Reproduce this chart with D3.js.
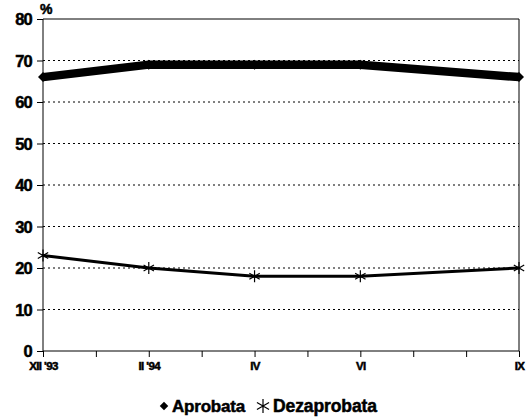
<!DOCTYPE html>
<html>
<head>
<meta charset="utf-8">
<script src="https://cdn.jsdelivr.net/npm/d3@7"></script>
<style>
  body { margin: 0; background: #fff; }
  svg { font-family: "Liberation Sans", Arial, sans-serif; font-weight: bold; }
  .grid line { stroke: #000; stroke-dasharray: 2,3; stroke-width: 1; }
  .heavy { stroke: #000; stroke-width: 0.5px; }
</style>
</head>
<body>
<div id="plot"></div>
<script>
// data
var months = ["XII '93", "I", "II '94", "III", "IV", "V", "VI", "VII", "VIII", "IX"];
var shown = ["XII '93", "II '94", "IV", "VI", "IX"];
var pointMonths = ["XII '93", "II '94", "IV", "VI", "IX"];
var aprobata = [66, 69, 69, 69, 66];
var dezaprobata = [23, 20, 18, 18, 20];
var yTicks = [0, 10, 20, 30, 40, 50, 60, 70, 80];

var margin = {top: 19, right: 7, bottom: 66, left: 43};
var width = 526 - margin.left - margin.right;
var height = 417 - margin.top - margin.bottom;

var svg = d3.select("#plot").append("svg")
    .attr("width", 526)
    .attr("height", 417)
  .append("g")
    .attr("transform", "translate(" + margin.left + "," + margin.top + ")");

var xScale = d3.scalePoint()
    .domain(months)
    .range([0, width]);

var yScale = d3.scaleLinear()
    .domain([0, 80])
    .range([height, 0]);

// gridlines
svg.append("g")
    .attr("class", "grid")
  .selectAll("line")
    .data(yTicks.filter(function(d) { return d > 0 && d < 80; }))
    .enter().append("line")
    .attr("x1", 0)
    .attr("x2", width)
    .attr("y1", function(d) { return yScale(d); })
    .attr("y2", function(d) { return yScale(d); });

// frame top and right
svg.append("line")
    .attr("x1", 0).attr("x2", width)
    .attr("y1", 0).attr("y2", 0)
    .attr("stroke", "#000");
svg.append("line")
    .attr("x1", width).attr("x2", width)
    .attr("y1", 0).attr("y2", height)
    .attr("stroke", "#000");

// axes
var xAxis = svg.append("g")
    .attr("transform", "translate(0," + height + ")")
    .call(d3.axisBottom(xScale)
        .tickSize(6)
        .tickFormat(function(d) { return shown.indexOf(d) >= 0 ? d : ""; }));
xAxis.selectAll("text")
    .attr("class", "heavy")
    .attr("font-size", 11.5)
    .attr("font-weight", "bold")
    .attr("dy", "0.85em")
    .style("letter-spacing", "-0.6px");

var yAxis = svg.append("g")
    .call(d3.axisLeft(yScale).tickValues(yTicks).tickSize(6).tickPadding(5));
yAxis.selectAll("text")
    .attr("class", "heavy")
    .attr("font-size", 16.5)
    .attr("font-weight", "bold")
    .attr("dy", "0.36em")
    .style("letter-spacing", "-0.8px");

svg.selectAll(".domain").attr("stroke", "#000");
svg.selectAll(".tick line").attr("stroke", "#000");
xAxis.selectAll(".domain").attr("d", "M0,0H" + width);
yAxis.selectAll(".domain").attr("d", "M0,0V" + height);

svg.append("text")
    .attr("class", "heavy")
    .attr("x", -3)
    .attr("y", -5)
    .attr("font-size", 14)
    .attr("font-weight", "bold")
    .text("%");

// lines
var line = d3.line()
    .x(function(d, i) { return xScale(pointMonths[i]); })
    .y(function(d) { return yScale(d); });

svg.append("path")
    .datum(aprobata)
    .attr("fill", "none")
    .attr("stroke", "#000")
    .attr("stroke-width", 8.5)
    .attr("d", line);

// square diamond marker
var diamond = d3.symbol().type(d3.symbolSquare).size(50);

svg.selectAll(".dia")
    .data(aprobata)
    .enter().append("path")
    .attr("class", "dia")
    .attr("transform", function(d, i) { return "translate(" + xScale(pointMonths[i]) + "," + yScale(d) + ") rotate(45)"; })
    .attr("d", diamond)
    .attr("fill", "#000");

svg.append("path")
    .datum(dezaprobata)
    .attr("fill", "none")
    .attr("stroke", "#000")
    .attr("stroke-width", 3)
    .attr("d", line);

function star(g, x, y, r) {
  var p = "";
  [0, 60, 120].forEach(function(a) {
    var t = (a + 90) * Math.PI / 180;
    p += "M" + (x - r * Math.cos(t)) + "," + (y - r * Math.sin(t)) +
         "L" + (x + r * Math.cos(t)) + "," + (y + r * Math.sin(t));
  });
  g.append("path").attr("d", p).attr("stroke", "#000").attr("stroke-width", 1.2).attr("fill", "none");
}

dezaprobata.forEach(function(d, i) {
  star(svg, xScale(pointMonths[i]), yScale(d), 6);
});

// legend
var legend = d3.select("svg").append("g");
legend.append("path")
    .attr("transform", "translate(164,406) rotate(45)")
    .attr("d", d3.symbol().type(d3.symbolSquare).size(36))
    .attr("fill", "#000");
legend.append("text")
    .attr("class", "heavy")
    .attr("x", 172).attr("y", 412)
    .attr("font-size", 17)
    .style("letter-spacing", "-0.2px")
    .text("Aprobata");
star(legend, 263, 406, 7);
legend.append("text")
    .attr("class", "heavy")
    .attr("x", 273).attr("y", 412)
    .attr("font-size", 17.5)
    .style("letter-spacing", "-0.1px")
    .text("Dezaprobata");
</script>
</body>
</html>
